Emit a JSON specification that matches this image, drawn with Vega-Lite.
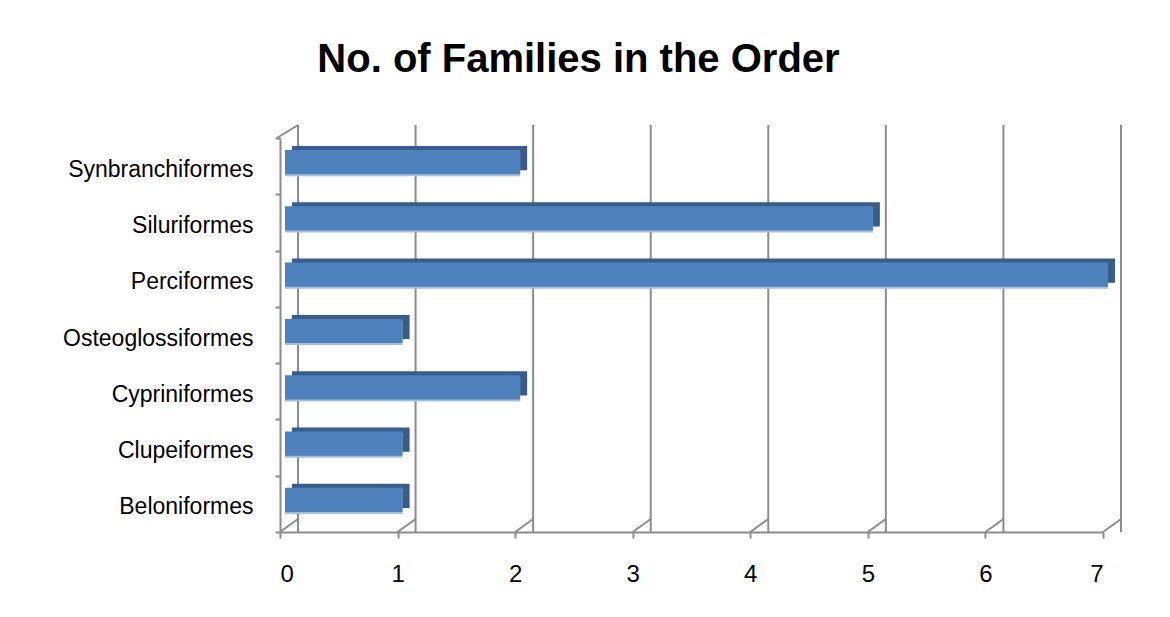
{
  "$schema": "https://vega.github.io/schema/vega-lite/v6.json",
  "width": 823,
  "height": 394,
  "autosize": "none",
  "padding": {"left": 280, "top": 138, "right": 67, "bottom": 85},
  "background": "white",
  "config": {"view": {"stroke": null}},
  "title": {
    "text": "No. of Families in the Order",
    "font": "Liberation Sans",
    "fontWeight": "bold",
    "fontSize": 40,
    "color": "black",
    "anchor": "middle",
    "dx": -113,
    "baseline": "alphabetic",
    "offset": 12
  },
  "datasets": {
    "orders": [
      {"order": "Synbranchiformes", "families": 2},
      {"order": "Siluriformes", "families": 5},
      {"order": "Perciformes", "families": 7},
      {"order": "Osteoglossiformes", "families": 1},
      {"order": "Cypriniformes", "families": 2},
      {"order": "Clupeiformes", "families": 1},
      {"order": "Beloniformes", "families": 1}
    ],
    "ticks": [{"t": 0}, {"t": 1}, {"t": 2}, {"t": 3}, {"t": 4}, {"t": 5}, {"t": 6}, {"t": 7}],
    "corner": [{"t": 0}]
  },
  "resolve": {"scale": {"y": "independent"}},
  "layer": [
    {
      "data": {"name": "ticks"},
      "mark": {"type": "rule", "color": "#8c8c8c", "strokeWidth": 2, "xOffset": 18, "x2Offset": 18, "yOffset": -13, "y2Offset": -13},
      "encoding": {
        "x": {
          "field": "t",
          "type": "quantitative",
          "scale": {"domain": [0, 7], "nice": false},
          "axis": {
            "title": null,
            "values": [0, 1, 2, 3, 4, 5, 6, 7],
            "format": "d",
            "grid": false,
            "domainColor": "#8c8c8c",
            "domainWidth": 2,
            "tickColor": "#8c8c8c",
            "tickWidth": 2,
            "tickSize": 6,
            "labelFont": "Liberation Sans",
            "labelFontSize": 24,
            "labelColor": "black",
            "labelPadding": 24
          }
        }
      }
    },
    {
      "data": {"name": "ticks"},
      "mark": {"type": "rule", "color": "#8c8c8c", "strokeWidth": 2, "x2Offset": 18, "y2Offset": -13},
      "encoding": {
        "x": {"field": "t", "type": "quantitative"},
        "x2": {"field": "t"},
        "y": {"datum": 0, "type": "quantitative", "scale": {"domain": [0, 1]}, "axis": null},
        "y2": {"datum": 0}
      }
    },
    {
      "data": {"name": "corner"},
      "mark": {"type": "rule", "color": "#8c8c8c", "strokeWidth": 2, "xOffset": -3, "x2Offset": 18, "y2Offset": -13},
      "encoding": {
        "x": {"field": "t", "type": "quantitative"},
        "x2": {"field": "t"},
        "y": {"datum": 1, "type": "quantitative", "scale": {"domain": [0, 1]}, "axis": null},
        "y2": {"datum": 1}
      }
    },
    {
      "data": {"name": "orders"},
      "encoding": {
        "x": {"field": "families", "type": "quantitative"},
        "y": {
          "field": "order",
          "type": "nominal",
          "sort": "descending",
          "scale": {"paddingInner": 0, "paddingOuter": 0},
          "axis": {
            "title": null,
            "tickBand": "extent",
            "domainColor": "#8c8c8c",
            "domainWidth": 2,
            "tickColor": "#8c8c8c",
            "tickWidth": 2,
            "tickSize": 5,
            "labelFont": "Liberation Sans",
            "labelFontSize": 23,
            "labelColor": "black",
            "labelPadding": 22,
            "labelLimit": 0,
            "labelOffset": 3
          }
        }
      },
      "layer": [
        {"mark": {"type": "bar", "color": "#385D8A", "height": {"band": 0.43}, "xOffset": 12, "x2Offset": 12, "yOffset": -8}},
        {"mark": {"type": "bar", "color": "#A7BFDE", "height": {"band": 0.43}, "xOffset": 5, "x2Offset": 5, "yOffset": -2}},
        {"mark": {"type": "bar", "color": "#4F81BD", "height": {"band": 0.43}, "xOffset": 5, "x2Offset": 5, "yOffset": -4}}
      ]
    }
  ]
}
